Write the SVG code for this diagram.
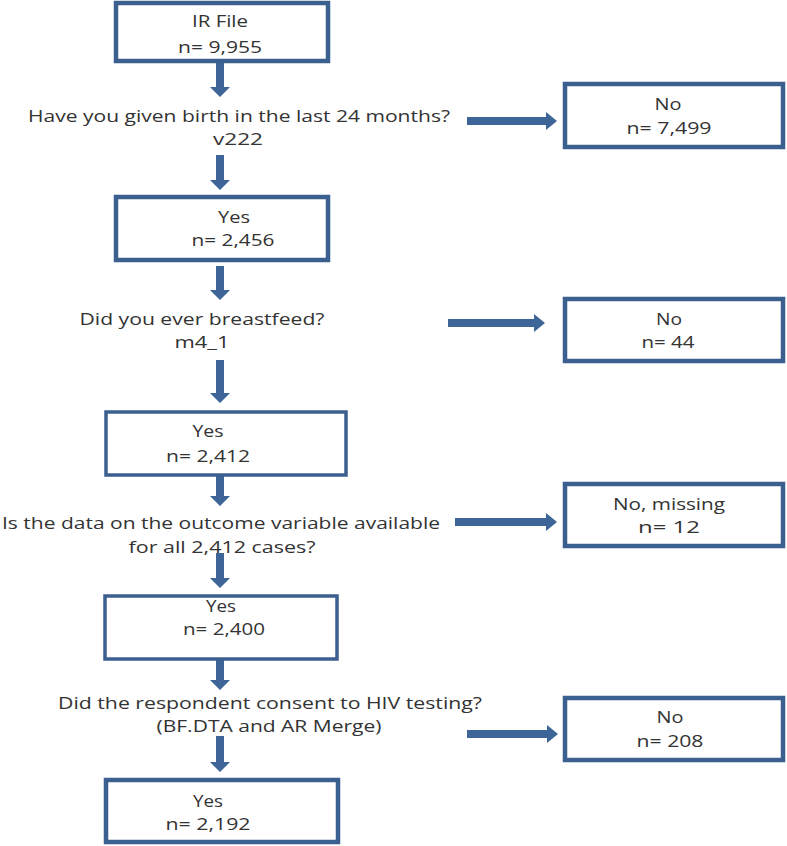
<svg xmlns="http://www.w3.org/2000/svg" width="787" height="846" viewBox="0 0 787 846">
<style>
.box{fill:#fff;stroke:#3b5f8e;stroke-width:4.5}
.thin{stroke-width:3.5}
.t{font-family:"Open Sans","Liberation Sans",sans-serif;font-size:17px;fill:#333;text-anchor:middle}
.arr{fill:#3d6597}
</style>
<g id="connectors" class="arr">
<path d="M216,63 H224 V87 H230 L220,97 L210,87 H216 Z"/>
<path d="M216,155 H224 V180 H230 L220,190 L210,180 H216 Z"/>
<path d="M216,266 H224 V290 H230 L220,300 L210,290 H216 Z"/>
<path d="M216,360 H224 V393 H230 L220,403 L210,393 H216 Z"/>
<path d="M216,476 H224 V496 H230 L220,506 L210,496 H216 Z"/>
<path d="M216,553 H224 V578 H230 L220,588 L210,578 H216 Z"/>
<path d="M216,660 H224 V680 H230 L220,690 L210,680 H216 Z"/>
<path d="M216,736 H224 V762 H230 L220,772 L210,762 H216 Z"/>
<path d="M467,117 H546 V112 L557,121 L546,130 V125 H467 Z"/>
<path d="M448,319 H534 V314 L545,323 L534,332 V327 H448 Z"/>
<path d="M455,518 H546 V513 L557,522 L546,531 V526 H455 Z"/>
<path d="M467,730 H547 V725 L558,734 L547,743 V738 H467 Z"/>
</g>
<g id="n1"><rect class="box" x="116" y="3" width="212" height="58"/><text class="t" x="220" y="27" textLength="56" lengthAdjust="spacingAndGlyphs">IR File</text><text class="t" x="220" y="53" textLength="84" lengthAdjust="spacingAndGlyphs">n= 9,955</text></g>
<g id="q1"><text class="t" x="239" y="122" textLength="422" lengthAdjust="spacingAndGlyphs">Have you given birth in the last 24 months?</text><text class="t" x="238" y="145" textLength="50" lengthAdjust="spacingAndGlyphs">v222</text></g>
<g id="n2"><rect class="box" x="565" y="84" width="218" height="63"/><text class="t" x="668" y="110" textLength="27" lengthAdjust="spacingAndGlyphs">No</text><text class="t" x="669" y="134" textLength="85" lengthAdjust="spacingAndGlyphs">n= 7,499</text></g>
<g id="n3"><rect class="box" x="116" y="197" width="212" height="63"/><text class="t" x="234" y="223" textLength="32" lengthAdjust="spacingAndGlyphs">Yes</text><text class="t" x="233" y="246" textLength="83" lengthAdjust="spacingAndGlyphs">n= 2,456</text></g>
<g id="q2"><text class="t" x="202" y="325" textLength="245" lengthAdjust="spacingAndGlyphs">Did you ever breastfeed?</text><text class="t" x="202" y="348" textLength="55" lengthAdjust="spacingAndGlyphs">m4_1</text></g>
<g id="n4"><rect class="box" x="565" y="299" width="218" height="62"/><text class="t" x="669" y="325" textLength="26" lengthAdjust="spacingAndGlyphs">No</text><text class="t" x="668" y="348" textLength="53" lengthAdjust="spacingAndGlyphs">n= 44</text></g>
<g id="n5"><rect class="box thin" x="106" y="412" width="240" height="63"/><text class="t" x="208" y="437" textLength="31" lengthAdjust="spacingAndGlyphs">Yes</text><text class="t" x="208" y="462" textLength="84" lengthAdjust="spacingAndGlyphs">n= 2,412</text></g>
<g id="q3"><text class="t" x="221" y="529" textLength="438" lengthAdjust="spacingAndGlyphs">Is the data on the outcome variable available</text><text class="t" x="222" y="553" textLength="187" lengthAdjust="spacingAndGlyphs">for all 2,412 cases?</text></g>
<g id="n6"><rect class="box" x="565" y="484" width="218" height="62"/><text class="t" x="669" y="510" textLength="112" lengthAdjust="spacingAndGlyphs">No, missing</text><text class="t" x="669" y="533" textLength="62" lengthAdjust="spacingAndGlyphs">n= 12</text></g>
<g id="n7"><rect class="box thin" x="105" y="596" width="232" height="63"/><text class="t" x="221" y="612" textLength="30" lengthAdjust="spacingAndGlyphs">Yes</text><text class="t" x="224" y="635" textLength="82" lengthAdjust="spacingAndGlyphs">n= 2,400</text></g>
<g id="q4"><text class="t" x="270" y="709" textLength="424" lengthAdjust="spacingAndGlyphs">Did the respondent consent to HIV testing?</text><text class="t" x="269" y="732" textLength="225" lengthAdjust="spacingAndGlyphs">(BF.DTA and AR Merge)</text></g>
<g id="n8"><rect class="box" x="565" y="698" width="218" height="62"/><text class="t" x="670" y="723" textLength="27" lengthAdjust="spacingAndGlyphs">No</text><text class="t" x="670" y="747" textLength="67" lengthAdjust="spacingAndGlyphs">n= 208</text></g>
<g id="n9"><rect class="box" x="106" y="780" width="232" height="62"/><text class="t" x="208" y="807" textLength="30" lengthAdjust="spacingAndGlyphs">Yes</text><text class="t" x="208" y="830" textLength="85" lengthAdjust="spacingAndGlyphs">n= 2,192</text></g>
</svg>
